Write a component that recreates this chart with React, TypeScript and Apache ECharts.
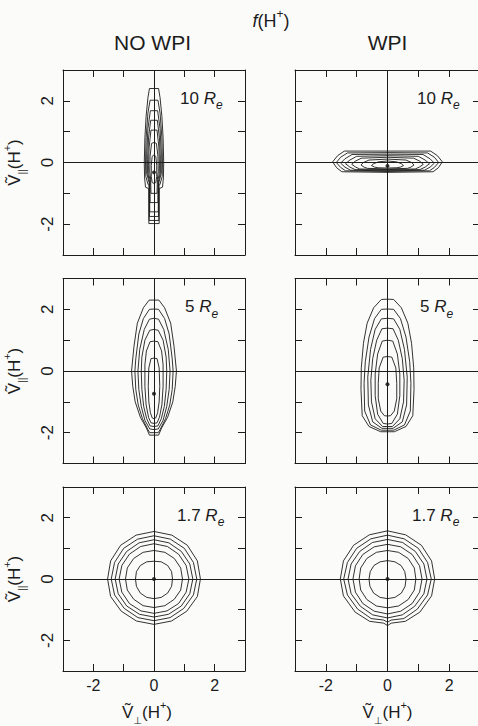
import { useEffect, useRef } from "react";
import * as echarts from "echarts";

type Pt = [number, number];

// Contour half-outlines (v_perp >= 0), traced from the top of each contour
// down to its bottom; the v_perp < 0 half is the mirror image.
const noWpi10Re: Pt[][] = [
  [[0, 2.4], [0.15, 2.4], [0.2, 2.1], [0.26, 1.5], [0.3, 0.8], [0.32, 0.0], [0.31, -0.5], [0.28, -0.8], [0.17, -0.85], [0.17, -1.98], [0, -1.98]],
  [[0, 2.02], [0.13, 2.02], [0.2, 1.6], [0.26, 0.8], [0.28, 0.0], [0.27, -0.45], [0.2, -0.7], [0.16, -0.75], [0.16, -1.88], [0, -1.88]],
  [[0, 1.68], [0.12, 1.68], [0.2, 1.1], [0.24, 0.3], [0.24, -0.35], [0.16, -0.65], [0.15, -1.75], [0, -1.75]],
  [[0, 1.37], [0.11, 1.37], [0.18, 0.8], [0.21, 0.1], [0.21, -0.35], [0.15, -0.6], [0.14, -1.6], [0, -1.6]],
  [[0, 1.05], [0.1, 1.05], [0.16, 0.5], [0.18, -0.1], [0.17, -0.4], [0.13, -0.55], [0.13, -1.3], [0, -1.3]],
  [[0, 0.65], [0.08, 0.62], [0.13, 0.2], [0.14, -0.3], [0.11, -0.55], [0.1, -1.0], [0, -1.0]],
  [[0, 0.25], [0.06, 0.2], [0.09, -0.1], [0.09, -0.45], [0.06, -0.65], [0, -0.68]],
];

const wpi10Re: Pt[][] = [
  [[0, 0.37], [1.4, 0.37], [1.62, 0.22], [1.78, 0.02], [1.65, -0.17], [1.48, -0.3], [0, -0.32]],
  [[0, 0.32], [1.3, 0.31], [1.52, 0.17], [1.66, 0.0], [1.52, -0.16], [1.36, -0.27], [0, -0.29]],
  [[0, 0.27], [1.15, 0.26], [1.38, 0.12], [1.52, -0.02], [1.38, -0.15], [1.2, -0.25], [0, -0.27]],
  [[0, 0.22], [1.0, 0.2], [1.22, 0.08], [1.36, -0.04], [1.22, -0.15], [1.05, -0.23], [0, -0.25]],
  [[0, 0.17], [0.85, 0.14], [1.05, 0.04], [1.16, -0.06], [1.03, -0.15], [0.9, -0.21], [0, -0.23]],
  [[0, 0.11], [0.6, 0.08], [0.78, 0.0], [0.86, -0.08], [0.76, -0.15], [0.65, -0.19], [0, -0.21]],
  [[0, 0.05], [0.3, 0.02], [0.45, -0.04], [0.52, -0.1], [0.42, -0.15], [0.3, -0.17], [0, -0.18]],
];

const noWpi5Re: Pt[][] = [
  [[0, 2.3], [0.16, 2.3], [0.35, 2.05], [0.55, 1.55], [0.66, 0.8], [0.74, 0.0], [0.7, -0.5], [0.62, -1.0], [0.45, -1.5], [0.25, -1.85], [0.15, -2.08], [0, -2.08]],
  [[0, 2.01], [0.15, 2.0], [0.35, 1.7], [0.5, 1.2], [0.6, 0.4], [0.63, 0.0], [0.6, -0.6], [0.52, -1.1], [0.38, -1.55], [0.2, -1.9], [0.14, -2.0], [0, -2.0]],
  [[0, 1.71], [0.15, 1.68], [0.32, 1.35], [0.47, 0.7], [0.53, 0.0], [0.5, -0.6], [0.42, -1.15], [0.3, -1.6], [0.14, -1.88], [0, -1.9]],
  [[0, 1.35], [0.14, 1.32], [0.3, 1.0], [0.4, 0.45], [0.42, 0.0], [0.4, -0.6], [0.34, -1.15], [0.24, -1.55], [0.13, -1.78], [0, -1.8]],
  [[0, 0.97], [0.13, 0.95], [0.25, 0.65], [0.3, 0.2], [0.3, -0.5], [0.26, -1.1], [0.18, -1.5], [0.1, -1.68], [0, -1.7]],
  [[0, 0.42], [0.1, 0.4], [0.17, 0.1], [0.19, -0.5], [0.17, -1.0], [0.12, -1.35], [0.06, -1.52], [0, -1.55]],
];

const wpi5Re: Pt[][] = [
  [[0, 2.33], [0.2, 2.32], [0.45, 2.05], [0.66, 1.55], [0.78, 0.9], [0.85, 0.1], [0.86, -0.6], [0.82, -1.45], [0.6, -1.8], [0.22, -1.97], [0, -1.97]],
  [[0, 2.01], [0.2, 2.0], [0.42, 1.7], [0.6, 1.1], [0.72, 0.3], [0.76, -0.4], [0.74, -1.3], [0.55, -1.75], [0.2, -1.92], [0, -1.92]],
  [[0, 1.71], [0.2, 1.69], [0.4, 1.35], [0.55, 0.7], [0.64, -0.2], [0.62, -1.1], [0.48, -1.65], [0.18, -1.86], [0, -1.86]],
  [[0, 1.39], [0.18, 1.37], [0.35, 1.0], [0.48, 0.4], [0.54, -0.3], [0.52, -1.0], [0.4, -1.55], [0.16, -1.8], [0, -1.8]],
  [[0, 1.0], [0.17, 0.97], [0.32, 0.55], [0.4, -0.1], [0.4, -0.8], [0.32, -1.4], [0.14, -1.7], [0, -1.72]],
  [[0, 0.47], [0.14, 0.45], [0.27, 0.1], [0.3, -0.4], [0.3, -0.9], [0.22, -1.3], [0.1, -1.45], [0, -1.46]],
];

const noWpi17Re: Pt[][] = [
  [[0, 1.55], [0.59, 1.43], [1.1, 1.1], [1.43, 0.59], [1.53, 0], [1.43, -0.57], [1.08, -1.05], [0.58, -1.37], [0, -1.48]],
  [[0, 1.41], [0.54, 1.3], [1.0, 1.0], [1.3, 0.54], [1.41, 0], [1.3, -0.52], [0.98, -0.96], [0.53, -1.26], [0, -1.36]],
  [[0, 1.28], [0.49, 1.18], [0.9, 0.9], [1.18, 0.49], [1.28, 0], [1.18, -0.48], [0.9, -0.88], [0.48, -1.15], [0, -1.24]],
  [[0, 1.15], [0.44, 1.06], [0.81, 0.81], [1.06, 0.44], [1.15, 0], [1.06, -0.43], [0.81, -0.8], [0.43, -1.04], [0, -1.12]],
  [[0, 0.93], [0.36, 0.87], [0.67, 0.67], [0.88, 0.36], [0.94, 0], [0.88, -0.36], [0.67, -0.66], [0.36, -0.87], [0, -0.93]],
  [[0, 0.58], [0.24, 0.56], [0.45, 0.44], [0.58, 0.24], [0.61, 0], [0.58, -0.24], [0.45, -0.46], [0.24, -0.6], [0, -0.64]],
];

const wpi17Re: Pt[][] = [
  [[0, 1.57], [0.59, 1.44], [1.1, 1.1], [1.43, 0.59], [1.53, 0], [1.43, -0.55], [1.05, -1.08], [0.58, -1.38], [0.12, -1.44], [0, -1.52]],
  [[0, 1.43], [0.54, 1.31], [1.0, 1.0], [1.3, 0.54], [1.42, 0], [1.3, -0.52], [0.97, -0.98], [0.53, -1.29], [0.12, -1.34], [0, -1.41]],
  [[0, 1.29], [0.49, 1.19], [0.9, 0.9], [1.18, 0.49], [1.28, 0], [1.18, -0.48], [0.88, -0.89], [0.48, -1.17], [0, -1.27]],
  [[0, 1.13], [0.43, 1.05], [0.8, 0.8], [1.04, 0.43], [1.12, 0], [1.04, -0.43], [0.8, -0.8], [0.43, -1.05], [0, -1.14]],
  [[0, 0.93], [0.36, 0.87], [0.67, 0.67], [0.87, 0.36], [0.92, 0], [0.87, -0.36], [0.67, -0.67], [0.36, -0.88], [0, -0.94]],
  [[0, 0.6], [0.24, 0.56], [0.44, 0.44], [0.56, 0.24], [0.6, 0], [0.57, -0.24], [0.45, -0.46], [0.24, -0.6], [0, -0.64]],
];

// Position of the distribution maximum in each panel
const peakNoWpi10: Pt = [0, -0.32];
const peakWpi10: Pt = [0, -0.11];
const peakNoWpi5: Pt = [0, -0.74];
const peakWpi5: Pt = [0, -0.43];
const peakNoWpi17: Pt = [0, 0];
const peakWpi17: Pt = [0, 0];

const columnTitles = ["NO WPI", "WPI"];
const radialDistances = ["10", "5", "1.7"];
const labelledTicks = [-2, 0, 2];
const axisMin = -3;
const axisMax = 3;

const FONT = "'Liberation Sans', 'DejaVu Sans', Arial, sans-serif";
const INK = "#1c1c1c";

const panels = [
  { row: 0, col: 0, contours: noWpi10Re, peak: peakNoWpi10, labelDx: 120 },
  { row: 0, col: 1, contours: wpi10Re, peak: peakWpi10, labelDx: 122 },
  { row: 1, col: 0, contours: noWpi5Re, peak: peakNoWpi5, labelDx: 125 },
  { row: 1, col: 1, contours: wpi5Re, peak: peakWpi5, labelDx: 125 },
  { row: 2, col: 0, contours: noWpi17Re, peak: peakNoWpi17, labelDx: 117 },
  { row: 2, col: 1, contours: wpi17Re, peak: peakWpi17, labelDx: 117 },
];

const colLeft = [60, 295];
const rowTop = [70, 278.5, 487];
const SIZE = 185;
// The right-hand column runs slightly past the page edge, so the canvas is
// a little wider than the viewport and the overflow is hidden.
const CANVAS_W = 492;
const CANVAS_H = 726;

function closeContour(half: Pt[]): Pt[] {
  const mirrored = half
    .slice(1, -1)
    .reverse()
    .map(([x, y]) => [-x, y] as Pt);
  return [...half, ...mirrored, half[0]];
}

const nameRich = {
  v: { fontSize: 17, fontFamily: FONT, color: INK, lineHeight: 26, verticalAlign: "middle" },
  s: { fontSize: 10, fontFamily: FONT, color: INK, lineHeight: 10, verticalAlign: "bottom" },
  n: { fontSize: 17, fontFamily: FONT, color: INK, lineHeight: 26, verticalAlign: "middle" },
  p: { fontSize: 11, fontFamily: FONT, color: INK, lineHeight: 12, verticalAlign: "top" },
};

export default function App() {
  const ref = useRef<HTMLDivElement>(null);

  useEffect(() => {
    document.documentElement.style.overflow = "hidden";
    document.body.style.margin = "0";
    document.body.style.overflow = "hidden";
    if (!ref.current) return;
    const chart = echarts.init(ref.current, undefined, { renderer: "svg" });

    const lineStyle = { color: INK, width: 1 };
    const tickFmt = (v: number) => (labelledTicks.includes(v) ? String(v) : "");

    const grids: any[] = [];
    const xAxes: any[] = [];
    const yAxes: any[] = [];
    const series: any[] = [];
    const graphics: any[] = [];

    panels.forEach((p, i) => {
      const left = colLeft[p.col];
      const top = rowTop[p.row];
      grids.push({ left, top, width: SIZE, height: SIZE, show: false });

      const base = {
        gridIndex: i,
        type: "value",
        min: axisMin,
        max: axisMax,
        interval: 1,
        axisLine: { show: true, onZero: false, lineStyle },
        axisTick: { show: true, inside: true, length: 7, lineStyle },
        splitLine: { show: false },
      };
      const bottomRow = p.row === 2;
      const leftCol = p.col === 0;
      xAxes.push({
        ...base,
        position: "bottom",
        axisLabel: {
          show: bottomRow,
          formatter: tickFmt,
          margin: 6,
          fontSize: 16,
          fontFamily: FONT,
          color: INK,
        },
        name: bottomRow ? "{v|Ṽ}{s|⊥}{n|(H}{p|+}{n|)}" : "",
        nameLocation: "middle",
        nameGap: 28,
        nameTextStyle: { rich: nameRich, padding: leftCol ? [0, 14, 0, 0] : 0 },
      });
      xAxes.push({ ...base, position: "top", axisLabel: { show: false } });
      yAxes.push({
        ...base,
        position: "left",
        axisLabel: {
          show: leftCol,
          formatter: tickFmt,
          rotate: 90,
          margin: 7,
          fontSize: 17,
          fontFamily: FONT,
          color: INK,
        },
        name: leftCol ? "{v|Ṽ}{s|||}{n|(H}{p|+}{n|)}" : "",
        nameLocation: "middle",
        nameRotate: 90,
        nameGap: 36,
        nameTextStyle: { rich: nameRich },
      });
      yAxes.push({ ...base, position: "right", axisLabel: { show: false } });

      const xi = 2 * i;
      p.contours.forEach((half) => {
        series.push({
          type: "line",
          xAxisIndex: xi,
          yAxisIndex: xi,
          data: closeContour(half),
          showSymbol: false,
          symbol: "none",
          smooth: false,
          silent: true,
          lineStyle: { color: INK, width: 0.9 },
        });
      });
      series.push({
        type: "scatter",
        xAxisIndex: xi,
        yAxisIndex: xi,
        data: [p.peak],
        symbol: "circle",
        symbolSize: 4,
        silent: true,
        itemStyle: { color: "#000" },
        markLine: {
          silent: true,
          symbol: ["none", "none"],
          label: { show: false },
          lineStyle: { color: INK, width: 1, type: "solid" },
          data: [{ xAxis: 0 }, { yAxis: 0 }],
        },
      });

      graphics.push({
        type: "text",
        x: left + p.labelDx,
        y: top + 28,
        style: {
          text: `{n|${radialDistances[p.row]} }{r|R}{s|e}`,
          align: "left",
          verticalAlign: "middle",
          rich: {
            n: { fontSize: 17, fontFamily: FONT, fill: INK, lineHeight: 26, verticalAlign: "middle" },
            r: { fontSize: 17, fontFamily: FONT, fontStyle: "italic", fill: INK, lineHeight: 26, verticalAlign: "middle" },
            s: { fontSize: 12, fontFamily: FONT, fontStyle: "italic", fill: INK, lineHeight: 10, verticalAlign: "bottom" },
          },
        },
      });
    });

    columnTitles.forEach((t, c) => {
      graphics.push({
        type: "text",
        x: colLeft[c] + SIZE / 2,
        y: 42,
        style: { text: t, fontSize: 21, fontFamily: FONT, fill: INK, align: "center", verticalAlign: "middle" },
      });
    });
    graphics.push({
      type: "text",
      x: 271,
      y: 21,
      style: {
        text: "{i|f}{n|(H}{p|+}{n|)}",
        align: "center",
        verticalAlign: "middle",
        rich: {
          i: { fontSize: 18, fontFamily: FONT, fontStyle: "italic", fill: INK, lineHeight: 26, verticalAlign: "middle" },
          n: { fontSize: 18, fontFamily: FONT, fill: INK, lineHeight: 26, verticalAlign: "middle" },
          p: { fontSize: 12, fontFamily: FONT, fill: INK, lineHeight: 12, verticalAlign: "top" },
        },
      },
    });

    chart.setOption({
      animation: false,
      backgroundColor: "#fbfbfa",
      grid: grids,
      xAxis: xAxes,
      yAxis: yAxes,
      series,
      graphic: graphics,
    });

    return () => chart.dispose();
  }, []);

  return <div ref={ref} style={{ width: CANVAS_W, height: CANVAS_H }} />;
}
